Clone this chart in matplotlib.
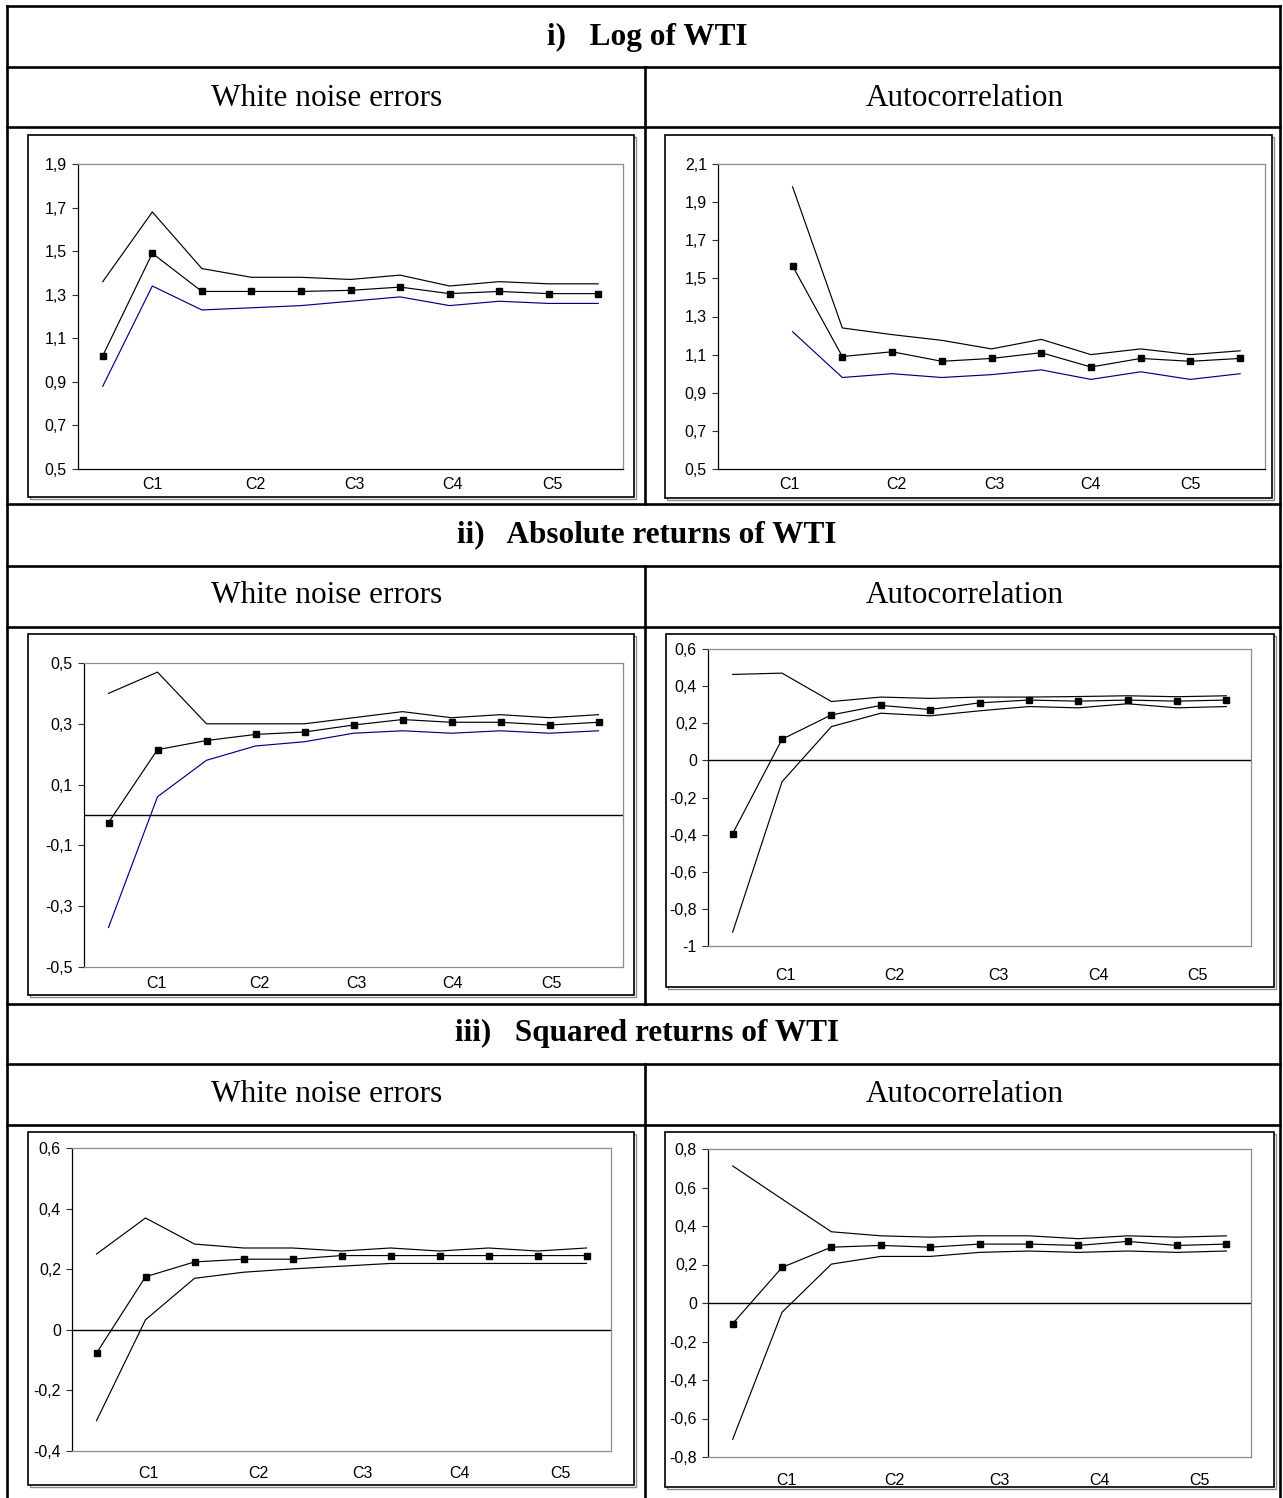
import numpy as np
import matplotlib.pyplot as plt
from matplotlib.patches import Rectangle
from matplotlib.ticker import FuncFormatter

W, H = 1283, 1498
nan = np.nan

# category positions (11 per chart) and the visible labels
x_cat = list(range(11))
cat_labels = ["C1", "C2", "C3", "C4", "C5"]

section_marks = ["i)", "ii)", "iii)"]
section_names = ["Log of WTI", "Absolute returns of WTI", "Squared returns of WTI"]
col_titles = ["White noise errors", "Autocorrelation"]

# i) Log of WTI
log_wn_upper = [1.36, 1.68, 1.42, 1.38, 1.38, 1.37, 1.39, 1.34, 1.36, 1.35, 1.35]
log_wn_mid = [1.02, 1.49, 1.315, 1.315, 1.315, 1.32, 1.335, 1.305, 1.315, 1.305, 1.305]
log_wn_lower = [0.88, 1.34, 1.23, 1.24, 1.25, 1.27, 1.29, 1.25, 1.27, 1.26, 1.26]

log_ac_upper = [nan, 1.98, 1.24, 1.205, 1.175, 1.13, 1.18, 1.10, 1.13, 1.10, 1.12]
log_ac_mid = [nan, 1.565, 1.09, 1.115, 1.065, 1.08, 1.11, 1.035, 1.08, 1.065, 1.08]
log_ac_lower = [nan, 1.22, 0.98, 1.0, 0.98, 0.995, 1.02, 0.97, 1.01, 0.97, 1.0]

# ii) Absolute returns of WTI
abs_wn_upper = [0.40, 0.47, 0.30, 0.30, 0.30, 0.32, 0.34, 0.32, 0.33, 0.32, 0.33]
abs_wn_mid = [-0.025, 0.215, 0.245, 0.265, 0.273, 0.296, 0.314, 0.305, 0.305, 0.296, 0.305]
abs_wn_lower = [-0.37, 0.06, 0.18, 0.227, 0.241, 0.269, 0.277, 0.269, 0.277, 0.269, 0.277]

abs_ac_upper = [0.463, 0.47, 0.317, 0.341, 0.334, 0.341, 0.341, 0.344, 0.348, 0.343, 0.348]
abs_ac_mid = [-0.394, 0.114, 0.245, 0.296, 0.274, 0.31, 0.325, 0.319, 0.325, 0.319, 0.325]
abs_ac_lower = [-0.925, -0.115, 0.182, 0.254, 0.24, 0.267, 0.29, 0.283, 0.305, 0.283, 0.29]

# iii) Squared returns of WTI
sq_wn_upper = [0.25, 0.369, 0.283, 0.27, 0.27, 0.26, 0.27, 0.26, 0.27, 0.26, 0.27]
sq_wn_mid = [-0.077, 0.175, 0.224, 0.233, 0.233, 0.245, 0.245, 0.245, 0.245, 0.245, 0.245]
sq_wn_lower = [-0.30, 0.033, 0.17, 0.19, 0.201, 0.21, 0.219, 0.219, 0.219, 0.219, 0.219]

sq_ac_upper = [0.712, 0.54, 0.37, 0.349, 0.342, 0.349, 0.349, 0.334, 0.349, 0.342, 0.349]
sq_ac_mid = [-0.107, 0.185, 0.29, 0.299, 0.29, 0.306, 0.306, 0.299, 0.32, 0.299, 0.306]
sq_ac_lower = [-0.708, -0.048, 0.202, 0.242, 0.242, 0.263, 0.27, 0.263, 0.27, 0.263, 0.27]

NAVY = "#000080"
SERIF = "Liberation Serif"
SANS = "Liberation Sans"


def comma(v, pos):
    s = f"{round(v, 1):g}"
    if s == "-0":
        s = "0"
    return s.replace(".", ",")


def px_axes(fig, x0, y0, x1, y1):
    return fig.add_axes([x0 / W, 1 - y1 / H, (x1 - x0) / W, (y1 - y0) / H])


def draw_panel(fig, bg, p):
    bx0, by0, bx1, by1 = p["box"]
    bg.add_patch(Rectangle((bx0 + 2, by0 + 2), bx1 - bx0, by1 - by0,
                           facecolor="none", edgecolor="#8c8c8c", lw=1.0))
    bg.add_patch(Rectangle((bx0, by0), bx1 - bx0, by1 - by0,
                           facecolor="white", edgecolor="black", lw=1.2))

    ax = px_axes(fig, *p["plot"])
    upper, mid, lower = p["series"]
    ax.plot(x_cat, upper, color="black", lw=0.85, zorder=3)
    ax.plot(x_cat, mid, color="black", lw=0.85, marker="s", ms=3.8,
            mfc="black", mec="black", zorder=4)
    ax.plot(x_cat, lower, color=p["lower_color"], lw=0.85, zorder=3)
    if p["zero"]:
        ax.axhline(0, color="black", lw=1.0, zorder=2)

    ax.set_xlim(-0.5, 10.5)
    lo, hi = p["ylim"]
    ax.set_ylim(lo, hi)
    ax.set_yticks(np.round(np.arange(lo, hi + 1e-6, 0.2), 1))
    ax.yaxis.set_major_formatter(FuncFormatter(comma))
    ax.set_xticks(p["xticks"])
    ax.set_xticklabels(cat_labels)

    ax.tick_params(axis="y", direction="out", length=4.5, width=0.8,
                   color="#303030", pad=3.5, labelsize=11.5)
    ax.tick_params(axis="x", length=0, pad=p["xpad"], labelsize=11.5)
    for lab in ax.get_xticklabels() + ax.get_yticklabels():
        lab.set_family(SANS)

    ax.spines["left"].set_color("black")
    ax.spines["top"].set_color("#8c8c8c")
    ax.spines["right"].set_color("#8c8c8c")
    ax.spines["bottom"].set_color("black" if not p["zero"] else "#8c8c8c")
    for s in ax.spines.values():
        s.set_linewidth(0.9)
    return ax


def main():
    fig = plt.figure(figsize=(W / 100, H / 100), dpi=100)
    bg = fig.add_axes([0, 0, 1, 1])
    bg.set_xlim(0, W)
    bg.set_ylim(H, 0)
    bg.axis("off")

    # table frame
    lw = 1.9
    left, right, top = 7, 1280, 6
    mid_x = 645
    bg.plot([left, left], [top, H + 5], color="black", lw=lw)
    bg.plot([right, right], [top, H + 5], color="black", lw=lw)
    for y in [top, 67, 127, 504, 566, 627, 1004, 1064, 1125]:
        bg.plot([left, right], [y, y], color="black", lw=lw,
                solid_capstyle="projecting")
    for y0, y1 in [(67, 504), (566, 1004), (1064, H + 5)]:
        bg.plot([mid_x, mid_x], [y0, y1], color="black", lw=lw)

    # headers
    head_base = [45, 542, 1041]
    sub_base = [106, 603, 1102]
    for mark, name, yb, ys in zip(section_marks, section_names, head_base, sub_base):
        bg.text(647, yb, f"{mark}   {name}", ha="center", va="baseline",
                fontsize=22.5, fontweight="bold", family=SERIF)
        bg.text(327, ys, col_titles[0], ha="center", va="baseline",
                fontsize=22.5, family=SERIF)
        bg.text(965, ys, col_titles[1], ha="center", va="baseline",
                fontsize=22.5, family=SERIF)

    panels = [
        dict(box=(28, 135, 634, 497), plot=(78, 164, 623, 469),
             series=(log_wn_upper, log_wn_mid, log_wn_lower), ylim=(0.5, 1.9),
             lower_color=NAVY, zero=False, xpad=6,
             xticks=[1.0, 3.08, 5.07, 7.06, 9.07]),
        dict(box=(665, 135, 1272, 498), plot=(718, 164, 1265, 469),
             series=(log_ac_upper, log_ac_mid, log_ac_lower), ylim=(0.5, 2.1),
             lower_color=NAVY, zero=False, xpad=6,
             xticks=[0.93, 3.08, 5.05, 7.0, 9.0]),
        dict(box=(28, 634, 634, 995), plot=(84, 663, 623, 967),
             series=(abs_wn_upper, abs_wn_mid, abs_wn_lower), ylim=(-0.5, 0.5),
             lower_color=NAVY, zero=True, xpad=6.5,
             xticks=[0.97, 3.07, 5.06, 7.03, 9.03]),
        dict(box=(666, 634, 1274, 987), plot=(708, 649, 1251, 946),
             series=(abs_ac_upper, abs_ac_mid, abs_ac_lower), ylim=(-1.0, 0.6),
             lower_color="black", zero=True, xpad=16,
             xticks=[1.06, 3.28, 5.38, 7.41, 9.42]),
        dict(box=(28, 1132, 634, 1485), plot=(72, 1148, 611, 1451),
             series=(sq_wn_upper, sq_wn_mid, sq_wn_lower), ylim=(-0.4, 0.6),
             lower_color="black", zero=True, xpad=11,
             xticks=[1.05, 3.31, 5.43, 7.41, 9.46]),
        dict(box=(665, 1132, 1274, 1487), plot=(708, 1149, 1251, 1457),
             series=(sq_ac_upper, sq_ac_mid, sq_ac_lower), ylim=(-0.8, 0.8),
             lower_color="black", zero=True, xpad=11.5,
             xticks=[1.08, 3.28, 5.41, 7.43, 9.46]),
    ]
    for p in panels:
        draw_panel(fig, bg, p)

    fig.savefig("out.png", dpi=100)


if __name__ == "__main__":
    main()
